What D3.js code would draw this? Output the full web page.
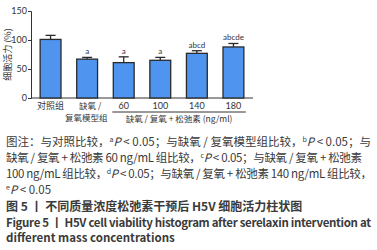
<html>
<head>
<meta charset="utf-8">
<title>H5V cell viability</title>
<script src="https://d3js.org/d3.v7.min.js"></script>
<style>
body{margin:0;background:#fff;}
text{font-family:"Noto Sans CJK SC","Noto Sans",sans-serif;fill:#333;}
</style>
</head>
<body>
<svg width="377" height="250"></svg>
<script>
// data
var groups = ["对照组", "模型组", "60", "100", "140", "180"];
var viability = [101, 67, 61, 65, 77, 88];
var errUp = [7, 3, 10, 5, 4.5, 6];
var sigLabels = ["", "a", "a", "a", "abcd", "abcde"];
var yTicks = [0, 50, 100, 150];

var svg = d3.select("svg"),
    plotL = 31, plotR = 253, plotT = 11, plotB = 98;

var x = d3.scaleBand().domain(groups).range([plotL, plotR]).paddingInner(0.43).paddingOuter(0.25);
var y = d3.scaleLinear().domain([0, 150]).range([plotB, plotT]);

// y axis
var yAxis = svg.append("g").attr("transform", `translate(${plotL},0)`)
    .call(d3.axisLeft(y).tickValues(yTicks).tickSize(3).tickPadding(1));
yAxis.selectAll("text").style("font-size", "9px").style("font-family", "Lato,sans-serif");
yAxis.selectAll("line,path").attr("stroke", "#333");

// x baseline
svg.append("line").attr("x1", plotL).attr("x2", plotR).attr("y1", plotB).attr("y2", plotB)
    .attr("stroke", "#333");

svg.append("text")
    .attr("transform", `translate(11,${(plotT + plotB) / 2}) rotate(-90)`)
    .attr("text-anchor", "middle").style("font-size", "9px")
    .text("细胞活力 (%)");

var g = svg.selectAll(".bar").data(groups).enter().append("g");
g.append("rect")
    .attr("x", d => x(d))
    .attr("width", x.bandwidth())
    .attr("y", (d, i) => y(viability[i]))
    .attr("height", (d, i) => plotB - y(viability[i]))
    .attr("fill", "#4f95f0").attr("stroke", "#2a2a2a").attr("stroke-width", 1.3);
// error bars
g.append("line")
    .attr("x1", d => x(d) + x.bandwidth() / 2).attr("x2", d => x(d) + x.bandwidth() / 2)
    .attr("y1", (d, i) => y(viability[i])).attr("y2", (d, i) => y(viability[i] + errUp[i]))
    .attr("stroke", "#2a2a2a").attr("stroke-width", 1.3);
g.append("line")
    .attr("x1", d => x(d) + x.bandwidth() / 2 - 5).attr("x2", d => x(d) + x.bandwidth() / 2 + 5)
    .attr("y1", (d, i) => y(viability[i] + errUp[i])).attr("y2", (d, i) => y(viability[i] + errUp[i]))
    .attr("stroke", "#2a2a2a").attr("stroke-width", 1.3);
g.append("text")
    .attr("x", d => x(d) + x.bandwidth() / 2)
    .attr("y", (d, i) => y(viability[i] + errUp[i]) - 3)
    .attr("text-anchor", "middle").style("font-size", "8px").style("font-family", "Lato,sans-serif")
    .style("fill", "#334")
    .text((d, i) => sigLabels[i]);

// x labels
var cx = d => x(d) + x.bandwidth() / 2;
function lbl(xx, yy, t, fs) {
  svg.append("text").attr("x", xx).attr("y", yy).attr("text-anchor", "middle")
    .style("font-size", (fs || 9) + "px").text(t);
}
lbl(cx(groups[0]), 109, "对照组");
lbl(cx(groups[1]) + 3, 109, "缺氧 /", 8.5);
lbl(cx(groups[1]) - 1, 120.5, "复氧模型组", 8.5);
groups.slice(2).forEach(d => {
  svg.append("text").attr("x", cx(d)).attr("y", 108.5).attr("text-anchor", "middle")
    .style("font-size", "9px").style("font-family", "Lato,sans-serif").text(d);
});
var bx1 = x(groups[2]) - 1, bx2 = x(groups[5]) + x.bandwidth() + 2;
svg.append("line").attr("x1", bx1).attr("x2", bx2).attr("y1", 112).attr("y2", 112)
    .attr("stroke", "#333");
lbl((bx1 + bx2) / 2, 121.5, "缺氧 / 复氧 + 松弛素 (ng/ml)", 8.5);

// caption
var capLines = [
  [["图注：与对照比较，"], ["a", "sup"], ["P", "i"], [" < 0.05；与缺氧 / 复氧模型组比较，"], ["b", "sup"], ["P", "i"], [" < 0.05；与"]],
  [["缺氧 / 复氧 + 松弛素 60 ng/mL 组比较，"], ["c", "sup"], ["P", "i"], [" < 0.05；与缺氧 / 复氧 + 松弛素"]],
  [["100 ng/mL 组比较，"], ["d", "sup"], ["P", "i"], [" < 0.05；与缺氧 / 复氧 + 松弛素 140 ng/mL 组比较，"]],
  [["e", "sup"], ["P", "i"], [" < 0.05"]]
];
var capWidth = [365, 356, 366, null];
capLines.forEach((parts, li) => {
  var t = svg.append("text").attr("x", 6).attr("y", 146 + li * 16).style("font-size", "11.5px")
      .style("fill", "#3a3a3a");
  if (capWidth[li]) t.attr("textLength", capWidth[li]).attr("lengthAdjust", "spacing");
  parts.forEach(p => {
    var s = t.append("tspan").text(p[0]);
    if (p[1] === "sup") s.style("font-size", "7px").attr("dy", -4);
    if (p[1] === "i") s.style("font-style", "italic").attr("dy", 4);
  });
});

svg.append("text").attr("x", 6).attr("y", 211).style("font-size", "12px").style("font-weight", "bold")
  .style("fill", "#3a3a3a")
  .text("图 5 丨 不同质量浓度松弛素干预后 H5V 细胞活力柱状图");
var f = svg.append("text").attr("x", 6).attr("y", 227).style("font-size", "11.5px").style("font-weight", "bold")
  .style("fill", "#3a3a3a").attr("textLength", 365).attr("lengthAdjust", "spacing");
f.append("tspan").text("Figure 5  丨  H5V cell viability histogram after serelaxin intervention at");
svg.append("text").attr("x", 6).attr("y", 242).style("font-size", "11.5px").style("font-weight", "bold")
  .style("fill", "#3a3a3a").text("different mass concentrations");
</script>
</body>
</html>
